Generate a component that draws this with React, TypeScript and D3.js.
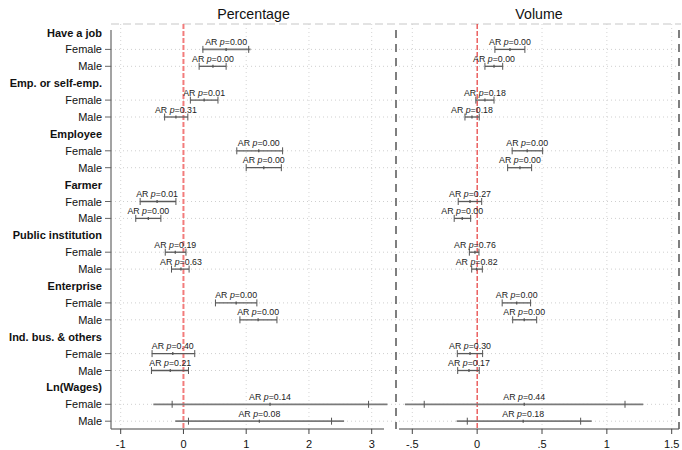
import * as d3 from "d3";

const groups = [
  "Have a job",
  "Emp. or self-emp.",
  "Employee",
  "Farmer",
  "Public institution",
  "Enterprise",
  "Ind. bus. & others",
  "Ln(Wages)",
];
const sexes = ["Female", "Male"];

// Percentage panel: one value per Female/Male row, in group order
const pctEst = [0.68, 0.47, 0.33, -0.12, 1.2, 1.28, -0.42, -0.56, -0.13, -0.04, 0.84, 1.19, -0.17, -0.21, 1.38, 1.21];
const pctCapLo = [0.31, 0.25, 0.11, -0.3, 0.85, 1.0, -0.69, -0.76, -0.29, -0.19, 0.51, 0.9, -0.5, -0.51, -0.18, 0.08];
const pctCapHi = [1.04, 0.68, 0.55, 0.07, 1.58, 1.56, -0.12, -0.36, 0.04, 0.09, 1.17, 1.49, 0.18, 0.08, 2.95, 2.36];
const pctLineLo = [0.3, 0.25, 0.11, -0.3, 0.85, 1.0, -0.69, -0.76, -0.29, -0.19, 0.51, 0.9, -0.5, -0.51, -0.48, -0.13];
const pctLineHi = [1.07, 0.68, 0.55, 0.07, 1.58, 1.56, -0.12, -0.36, 0.04, 0.09, 1.17, 1.49, 0.18, 0.08, 3.25, 2.56];
const pctP = ["0.00", "0.00", "0.01", "0.31", "0.00", "0.00", "0.01", "0.00", "0.19", "0.63", "0.00", "0.00", "0.40", "0.21", "0.14", "0.08"];

// Volume panel
const volEst = [0.253, 0.13, 0.06, -0.04, 0.386, 0.33, -0.055, -0.115, -0.017, -0.004, 0.305, 0.363, -0.055, -0.063, 0.363, 0.355];
const volCapLo = [0.137, 0.06, -0.01, -0.094, 0.27, 0.235, -0.146, -0.177, -0.06, -0.042, 0.193, 0.274, -0.153, -0.15, -0.408, -0.076];
const volCapHi = [0.368, 0.197, 0.13, 0.016, 0.505, 0.42, 0.035, -0.05, 0.014, 0.04, 0.412, 0.459, 0.042, 0.016, 1.14, 0.798];
const volLineLo = [0.137, 0.06, -0.01, -0.094, 0.27, 0.235, -0.146, -0.177, -0.06, -0.042, 0.193, 0.274, -0.153, -0.15, -0.557, -0.158];
const volLineHi = [0.368, 0.197, 0.13, 0.016, 0.505, 0.42, 0.035, -0.05, 0.014, 0.04, 0.412, 0.459, 0.042, 0.016, 1.28, 0.883];
const volP = ["0.00", "0.00", "0.18", "0.18", "0.00", "0.00", "0.27", "0.00", "0.76", "0.82", "0.00", "0.00", "0.30", "0.17", "0.44", "0.18"];

const pctTicks = [-1, 0, 1, 2, 3];
const pctTickLabels = ["-1", "0", "1", "2", "3"];
const volTicks = [-0.5, 0, 0.5, 1, 1.5];
const volTickLabels = ["-.5", "0", ".5", "1", "1.5"];

const FONT = "Arial, 'Liberation Sans', Helvetica, sans-serif";
const W = 682;
const H = 450;
const top = 24;
const bottom = 429;
const axisX = 111;
const midX = 396;
const rightX = 679;

type PanelProps = {
  title: string;
  x: d3.ScaleLinear<number, number>;
  left: number;
  right: number;
  axisEnd: number;
  ticks: number[];
  tickLabels: string[];
  est: number[];
  capLo: number[];
  capHi: number[];
  lineLo: number[];
  lineHi: number[];
  p: string[];
  zeroColor: string;
  zeroWidth: number;
  y: (i: number) => number;
};

const rowIndex = (k: number) => Math.floor(k / 2) * 3 + 1 + (k % 2);

const Panel = ({ title, x, left, right, axisEnd, ticks, tickLabels, est, capLo, capHi, lineLo, lineHi, p, zeroColor, zeroWidth, y }: PanelProps) => (
  <g>
    <text x={(left + right) / 2} y={18.5} textAnchor="middle" fontSize={14.2} fill="#111">
      {title}
    </text>
    {ticks
      .filter((t) => t !== 0)
      .map((t) => (
        <line key={t} x1={x(t)} x2={x(t)} y1={top} y2={bottom} stroke="#d4d4d4" strokeDasharray="1,3" />
      ))}
    <line x1={x(0)} x2={x(0)} y1={top} y2={bottom} stroke={zeroColor} strokeWidth={zeroWidth} strokeDasharray="5,2" />
    <line x1={left} x2={axisEnd} y1={bottom} y2={bottom} stroke="#444" strokeWidth={1.2} />
    {ticks.map((t, i) => (
      <g key={t}>
        <line x1={x(t)} x2={x(t)} y1={bottom} y2={bottom + 5} stroke="#444" />
        <text x={x(t)} y={447.5} textAnchor="middle" fontSize={11} fill="#111">
          {tickLabels[i]}
        </text>
      </g>
    ))}
    {est.map((e, k) => {
      const cy = y(rowIndex(k));
      const wide = lineLo[k] !== capLo[k];
      const col = wide ? "#7a7a7a" : "#5a5a5a";
      return (
        <g key={k}>
          <line x1={x(lineLo[k])} x2={x(lineHi[k])} y1={cy} y2={cy} stroke={col} strokeWidth={wide ? 1.8 : 1.3} />
          <line x1={x(capLo[k])} x2={x(capLo[k])} y1={cy - 3.5} y2={cy + 3.5} stroke="#555" strokeWidth={1} />
          <line x1={x(capHi[k])} x2={x(capHi[k])} y1={cy - 3.5} y2={cy + 3.5} stroke="#555" strokeWidth={1} />
          <line x1={x(e)} x2={x(e)} y1={cy - 1.5} y2={cy + 1.5} stroke="#555" strokeWidth={1.3} />
          <text x={x(e)} y={cy - 4.5} textAnchor="middle" fontSize={8.8} fill="#222">
            AR <tspan fontStyle="italic">p</tspan>={p[k]}
          </text>
        </g>
      );
    })}
  </g>
);

export default function App() {
  const y = d3.scaleLinear().domain([0, 23]).range([32.5, 421.2]);
  const xPct = d3.scaleLinear().domain([-1, 3]).range([120.7, 371.7]);
  const xVol = d3.scaleLinear().domain([-0.5, 1.5]).range([412.3, 671.7]);

  const rows = groups.flatMap((g) => [{ label: g, bold: true }, ...sexes.map((s) => ({ label: s, bold: false }))]);

  return (
    <svg width={W} height={H} style={{ position: "absolute", left: 0, top: 0, background: "#fff" }} fontFamily={FONT}>
      <rect width={W} height={H} fill="#fff" />
      {/* horizontal dotted grid at Female / Male rows */}
      {rows.map((r, i) =>
        r.bold ? null : (
          <line key={`g${i}`} x1={axisX} x2={rightX} y1={y(i)} y2={y(i)} stroke="#cfcfcf" strokeDasharray="1,3" />
        )
      )}
      <line x1={axisX} x2={rightX + 2} y1={top} y2={top} stroke="#c8c8c8" strokeWidth={1.2} strokeDasharray="8,4" />
      <Panel
        title="Percentage"
        x={xPct}
        left={axisX}
        right={midX}
        axisEnd={384}
        ticks={pctTicks}
        tickLabels={pctTickLabels}
        est={pctEst}
        capLo={pctCapLo}
        capHi={pctCapHi}
        lineLo={pctLineLo}
        lineHi={pctLineHi}
        p={pctP}
        zeroColor="#f27c7c"
        zeroWidth={2}
        y={y}
      />
      <Panel
        title="Volume"
        x={xVol}
        left={399}
        right={rightX}
        axisEnd={rightX}
        ticks={volTicks}
        tickLabels={volTickLabels}
        est={volEst}
        capLo={volCapLo}
        capHi={volCapHi}
        lineLo={volLineLo}
        lineHi={volLineHi}
        p={volP}
        zeroColor="#e01010"
        zeroWidth={1}
        y={y}
      />
      <line x1={midX} x2={midX} y1={30} y2={bottom} stroke="#555" strokeWidth={1.5} strokeDasharray="8,6" />
      <line x1={rightX} x2={rightX} y1={30} y2={bottom} stroke="#555" strokeWidth={1.5} strokeDasharray="8,6" />
      {/* y axis */}
      <line x1={axisX} x2={axisX} y1={30} y2={bottom} stroke="#666" strokeWidth={1.2} />
      {rows.map((r, i) => (
        <g key={`r${i}`}>
          {!r.bold && <line x1={105} x2={axisX} y1={y(i)} y2={y(i)} stroke="#666" />}
          <text x={102} y={y(i) + 4} textAnchor="end" fontSize={11} fontWeight={r.bold ? "bold" : "normal"} fill="#111">
            {r.label}
          </text>
        </g>
      ))}
    </svg>
  );
}
